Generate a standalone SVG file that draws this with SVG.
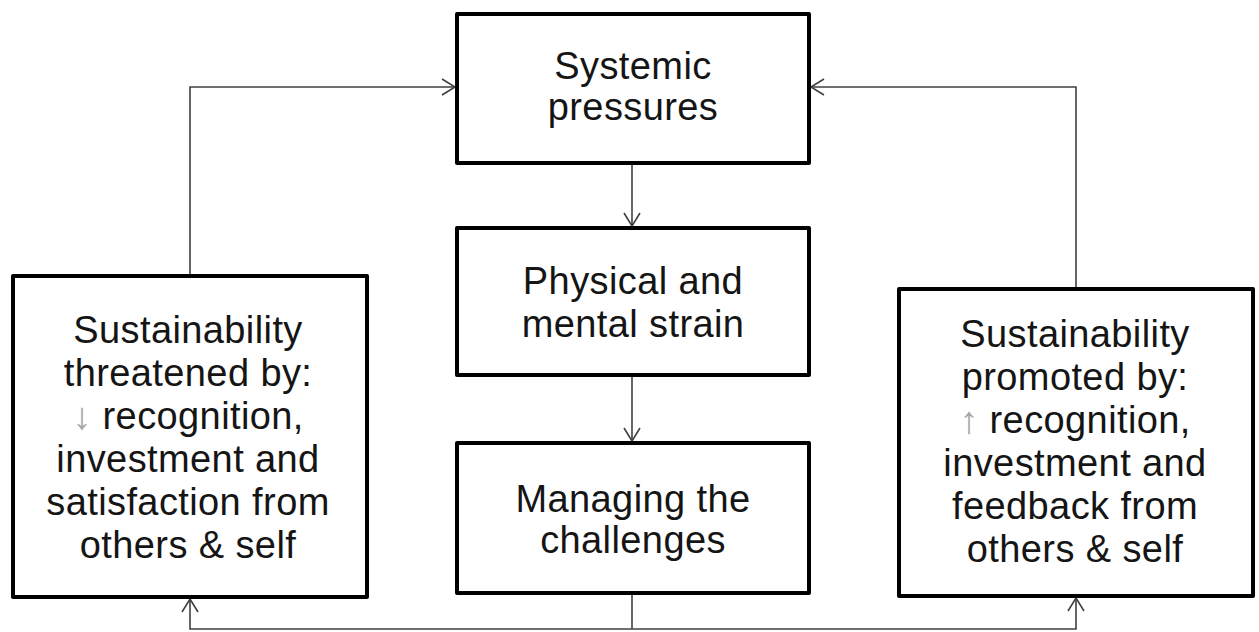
<svg xmlns="http://www.w3.org/2000/svg" width="1259" height="632" viewBox="0 0 1259 632">
<style>
.box{fill:#fff;stroke:#000;stroke-width:4;stroke-linejoin:round}
.lbl{font-family:"Liberation Sans",Arial,sans-serif;font-size:38px;letter-spacing:0.4px;fill:#151515;text-anchor:middle}
.gar{fill:#a6a6a6}
.con{fill:none;stroke:#404040;stroke-width:1.6}
</style>
<defs>
<marker id="arr" viewBox="-15 -10 17 20" refX="0" refY="0" markerWidth="17" markerHeight="20" markerUnits="userSpaceOnUse" orient="auto">
<path d="M-13,-8 L0,0 L-13,8" fill="none" stroke="#404040" stroke-width="1.6"/>
</marker>
</defs>
<rect width="1259" height="632" fill="#fff"/>
<g id="connectors">
<path class="con" d="M190,276 V87 H455" marker-end="url(#arr)"/>
<path class="con" d="M1076,289 V87 H811" marker-end="url(#arr)"/>
<path class="con" d="M632,164 V226" marker-end="url(#arr)"/>
<path class="con" d="M632,376 V441" marker-end="url(#arr)"/>
<path class="con" d="M632,595 V629"/>
<path class="con" d="M632,629 H190 V599" marker-end="url(#arr)"/>
<path class="con" d="M632,629 H1076 V598" marker-end="url(#arr)"/>
</g>
<g id="systemic">
<rect class="box" x="457" y="14" width="352" height="149"/>
<text class="lbl" x="633" y="79">Systemic</text>
<text class="lbl" x="633" y="120">pressures</text>
</g>
<g id="strain">
<rect class="box" x="457" y="228" width="352" height="147"/>
<text class="lbl" x="633" y="294">Physical and</text>
<text class="lbl" x="633" y="337">mental strain</text>
</g>
<g id="managing">
<rect class="box" x="457" y="443" width="352" height="150"/>
<text class="lbl" x="633" y="512">Managing the</text>
<text class="lbl" x="633" y="553">challenges</text>
</g>
<g id="threatened">
<rect class="box" x="13" y="276" width="354" height="321"/>
<text class="lbl" x="188" y="343">Sustainability</text>
<text class="lbl" x="188" y="386">threatened by:</text>
<text class="lbl" x="188" y="429"><tspan class="gar">↓</tspan> recognition,</text>
<text class="lbl" x="188" y="472">investment and</text>
<text class="lbl" x="188" y="515">satisfaction from</text>
<text class="lbl" x="188" y="558">others &amp; self</text>
</g>
<g id="promoted">
<rect class="box" x="899" y="289" width="354" height="307"/>
<text class="lbl" x="1075" y="347">Sustainability</text>
<text class="lbl" x="1075" y="390">promoted by:</text>
<text class="lbl" x="1075" y="433"><tspan class="gar">↑</tspan> recognition,</text>
<text class="lbl" x="1075" y="476">investment and</text>
<text class="lbl" x="1075" y="519">feedback from</text>
<text class="lbl" x="1075" y="562">others &amp; self</text>
</g>
</svg>
